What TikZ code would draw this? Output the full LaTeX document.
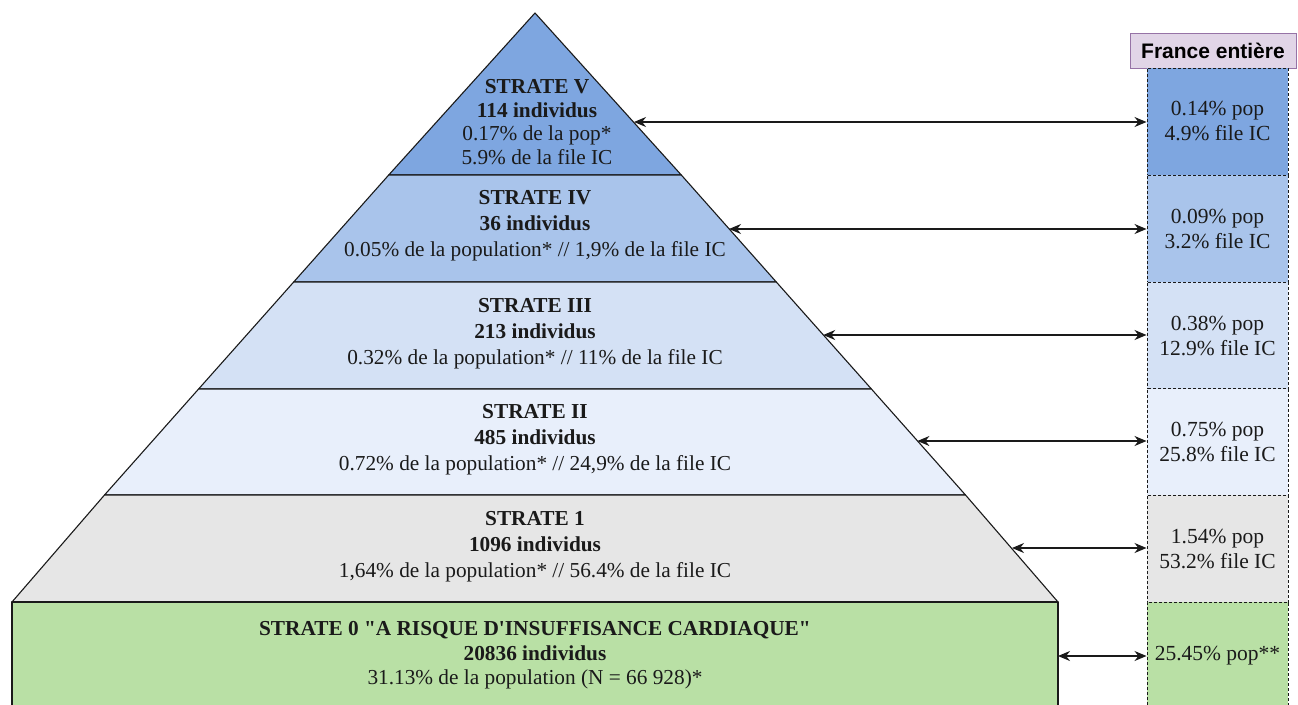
\documentclass[tikz,border=0pt]{standalone}
\usepackage{fontspec}
\setmainfont{Liberation Serif}[Ligatures=TeXOff]
\newfontfamily\headfont{Liberation Sans}
\usetikzlibrary{arrows.meta}

\definecolor{fillV}{HTML}{7EA6E0}
\definecolor{fillIV}{HTML}{A9C4EB}
\definecolor{fillIII}{HTML}{D4E1F5}
\definecolor{fillII}{HTML}{E8EFFB}
\definecolor{fillI}{HTML}{E6E6E6}
\definecolor{fillZero}{HTML}{B9E0A5}
\definecolor{headfill}{HTML}{E1D5E7}
\definecolor{headdraw}{HTML}{9673A6}
\definecolor{inkc}{HTML}{1A1A1A}

\tikzset{
  layer/.style={draw=inkc, line width=1.1pt, line join=round},
  strlabel/.style={align=center, text=inkc, font=\fontsize{21.3}{26}\selectfont, inner sep=0pt},
  cell/.style={draw=inkc, dash pattern=on 3pt off 2pt, line width=1pt,
    minimum width=141pt, minimum height=107pt, inner sep=0pt,
    align=center, text=inkc, font=\fontsize{21.5}{25}\selectfont},
  link/.style={{Stealth[length=12pt,width=10pt]}-{Stealth[length=12pt,width=10pt]}, line width=1.1pt, draw=inkc},
}

\begin{document}
\begin{tikzpicture}[x=1pt,y=-1pt]
\clip (0,0) rectangle (1298,704);
\fill[white] (0,0) rectangle (1298,704);

% pyramid layers, apex at (535,13), half-width grows 0.888 per unit of height
\filldraw[layer, fill=fillV]   (535,13) -- (681.3,175) -- (388.7,175) -- cycle;
\filldraw[layer, fill=fillIV]  (388.7,175) -- (681.3,175) -- (776.3,282) -- (293.7,282) -- cycle;
\filldraw[layer, fill=fillIII] (293.7,282) -- (776.3,282) -- (871.4,389) -- (198.6,389) -- cycle;
\filldraw[layer, fill=fillII]  (198.6,389) -- (871.4,389) -- (965.5,495) -- (104.5,495) -- cycle;
\filldraw[layer, fill=fillI]   (104.5,495) -- (965.5,495) -- (1058,602) -- (12,602) -- cycle;
\filldraw[layer, fill=fillZero] (12,602) rectangle (1058,730);

% layer texts
\node[strlabel, font=\fontsize{21.3}{23.7}\selectfont] (tV) at (537,122) {\textbf{STRATE V}\\ \textbf{114 individus}\\ 0.17\% de la pop*\\ 5.9\% de la file IC};
\node[strlabel] (tIV) at (535,226) {\textbf{STRATE IV}\\ \textbf{36 individus}\\ 0.05\% de la population* // 1,9\% de la file IC};
\node[strlabel] (tIII) at (535,333.5) {\textbf{STRATE III}\\ \textbf{213 individus}\\ 0.32\% de la population* // 11\% de la file IC};
\node[strlabel] (tII) at (535,440) {\textbf{STRATE II}\\ \textbf{485 individus}\\ 0.72\% de la population* // 24,9\% de la file IC};
\node[strlabel] (tI) at (535,547) {\textbf{STRATE 1}\\ \textbf{1096 individus}\\ 1,64\% de la population* // 56.4\% de la file IC};
\node[strlabel, font=\fontsize{21.3}{24.5}\selectfont] (tZero) at (535,655.5) {\textbf{STRATE 0 "A RISQUE D'INSUFFISANCE CARDIAQUE"}\\ \textbf{20836 individus}\\ 31.13\% de la population (N = 66 928)*};

% points on the right edge of the pyramid
\coordinate (eV) at (634.0,122);
\coordinate (eIV) at (729.0,229);
\coordinate (eIII) at (823.2,335);
\coordinate (eII) at (917.4,441);
\coordinate (eI) at (1012.0,548);
\coordinate (eZero) at (1058,656);

% national column
\node[draw=headdraw, fill=headfill, line width=1pt, minimum width=166pt, minimum height=35pt,
      inner sep=0pt, font=\headfont\bfseries\fontsize{21}{23}\selectfont] (head) at (1213,50.5) {France entière};
\node[cell, fill=fillV]   (cV)   at (1217.5,121.5) {0.14\% pop\\ 4.9\% file IC};
\node[cell, fill=fillIV]  (cIV)  at (1217.5,228.5) {0.09\% pop\\ 3.2\% file IC};
\node[cell, fill=fillIII] (cIII) at (1217.5,335.5) {0.38\% pop\\ 12.9\% file IC};
\node[cell, fill=fillII]  (cII)  at (1217.5,442.0) {0.75\% pop\\ 25.8\% file IC};
\node[cell, fill=fillI]   (cI)   at (1217.5,548.5) {1.54\% pop\\ 53.2\% file IC};
\node[cell, fill=fillZero, minimum height=128pt] (cZero) at (1217.5,666) {};
\node[strlabel, font=\fontsize{21.5}{25}\selectfont] (cZeroText) at (1217.5,656) {25.45\% pop**};

% links between layers and national figures
\draw[link] (eV) -- (cV.west |- eV);
\draw[link] (eIV) -- (cIV.west |- eIV);
\draw[link] (eIII) -- (cIII.west |- eIII);
\draw[link] (eII) -- (cII.west |- eII);
\draw[link] (eI) -- (cI.west |- eI);
\draw[link] (eZero) -- (cZero.west |- eZero);
\end{tikzpicture}
\end{document}
